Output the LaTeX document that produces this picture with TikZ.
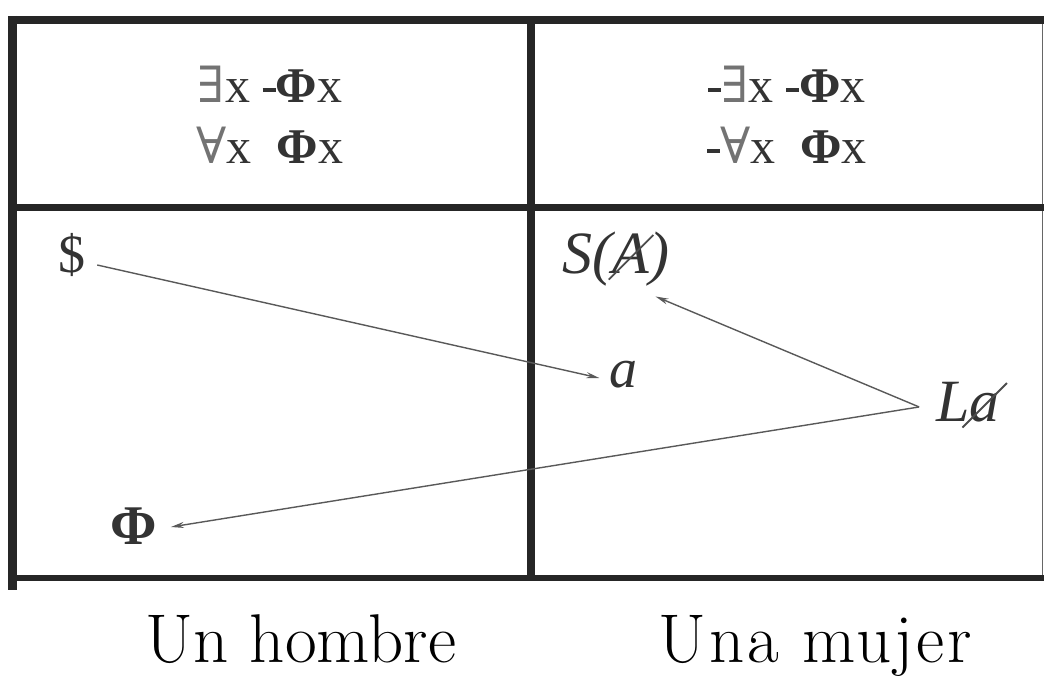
\documentclass[tikz,border=0pt]{standalone}
\usepackage{fontspec}
\setmainfont{Liberation Serif}
\newfontfamily\lmfont{Latin Modern Roman}
\newfontfamily\quantf{DejaVu Serif}
\usetikzlibrary{arrows.meta}
\newcommand\slashit[1]{\ooalign{#1\cr\hidewidth\raisebox{-0.12em}{\color{black!70}\rotatebox{45}{\rule{1.05em}{0.03em}}}\hidewidth}}
\newcommand\qsym[1]{{\quantf\color{black!55}#1}}
\newcommand\bdash{\rule[0.2em]{0.26em}{0.075em}}
\newcommand\bphi{\textbf{Φ}}
\begin{document}
\begin{tikzpicture}[x=1pt,y=-1pt,
  frameline/.style={draw=black!85, line cap=butt},
  hdr/.style={font=\fontsize{50}{60}\selectfont, text=black!80, inner sep=0pt, anchor=base},
  lbl/.style={font=\fontsize{60}{66}\selectfont, text=black!80, inner sep=2pt},
  capt/.style={font=\lmfont\fontsize{69}{74}\selectfont, text=black, inner sep=0pt, anchor=base},
  arr/.style={draw=black!65, line width=1.4pt, -{Stealth[length=13pt,width=6pt]}}]
\useasboundingbox (0,0) rectangle (1044,677);
% frame
\draw[frameline, line width=1.5pt, draw=black!60] (1042.5,20) -- (1042.5,578);
\draw[frameline, line width=8pt] (8,20) -- (1044,20);
\draw[frameline, line width=7pt] (12,207) -- (1044,207);
\draw[frameline, line width=6pt] (8,578) -- (1044,578);
\draw[frameline, line width=9pt] (12,16) -- (12,590);
\draw[frameline, line width=8pt] (531,20) -- (531,578);
% headers
\node[hdr] (h1a) at (270,102) {\qsym{∃}x \bdash\bphi x};
\node[hdr] (h1b) at (270,163) {\qsym{∀}x\ \ \bphi x};
\node[hdr] (h2a) at (787,102) {\bdash\qsym{∃}x \bdash\bphi x};
\node[hdr] (h2b) at (787,163) {\bdash\qsym{∀}x\ \ \bphi x};
% lower cells
\node[lbl, font=\fontsize{54}{60}\selectfont] (dollar) at (72,255) {\$};
\node[lbl, font=\fontsize{56}{60}\selectfont] (a) at (623,375) {\textit{a}};
\node[lbl, anchor=base] (S) at (616,273) {\textit{S(\slashit{A})}};
\node[lbl, anchor=base] (La) at (968,421) {\textit{L\slashit{a}}};
\node[lbl, font=\fontsize{56}{60}\selectfont] (Phi) at (134,526) {\bphi};
\coordinate (lj) at ([shift={(-15pt,-2pt)}]La.west);
\draw[arr] ([shift={(9.5pt,-10pt)}]dollar.east) -- ([shift={(-7.5pt,-3pt)}]a.west);
\draw[arr] (lj) -- ([shift={(-16pt,-8.5pt)}]S.south east);
\draw[arr] (lj) -- ([shift={(11.5pt,-1pt)}]Phi.east);
% captions
\node[capt] (c1) at (301,662) {Un hombre};
\node[capt] (c2) at (815,662) {\addfontfeature{LetterSpace=4}Una mujer};
\end{tikzpicture}
\end{document}
